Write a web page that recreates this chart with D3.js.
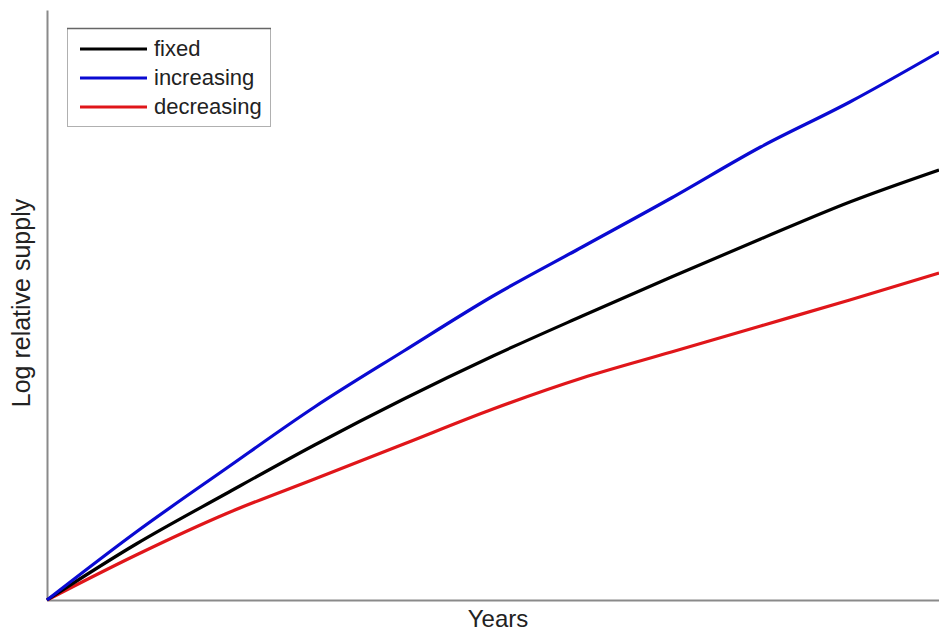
<!DOCTYPE html>
<html>
<head>
<meta charset="utf-8">
<script src="https://cdn.jsdelivr.net/npm/d3@7"></script>
<style>
html,body{margin:0;padding:0;background:#fff;}
svg{display:block;font-family:"Liberation Sans",Arial,sans-serif;}
</style>
</head>
<body>
<svg id="chart" width="939" height="634"></svg>
<script>
// Years (arbitrary, no ticks shown)
const years = [0, 10, 20, 30, 40, 50, 60, 70, 80, 90, 100];
// Log relative supply (arbitrary units, no ticks shown)
const fixedSeries      = [0, 56, 106, 155, 201, 244, 284, 323, 361, 398, 430];
const increasingSeries = [0, 68, 131, 193, 249, 304, 353, 402, 453, 498, 548];
const decreasingSeries = [0, 45, 86, 121, 156, 191, 222, 248, 274, 300, 327];
const seriesNames = ["fixed", "increasing", "decreasing"];
const seriesColors = ["#000000", "#0a0ad2", "#e0161a"];
const xLabel = "Years";
const yLabel = "Log relative supply";

(function () {
const allSeries = [fixedSeries, increasingSeries, decreasingSeries];

const svg = d3.select("#chart");
const mLeft = 47, mBottom = 600, mTop = 10, mRight = 939;

const x = d3.scaleLinear().domain([0, 100]).range([mLeft, mRight]);
const y = d3.scaleLinear().domain([0, 590]).range([mBottom, mTop]);

// axes (no ticks)
svg.append("g").attr("transform", `translate(0,${mBottom})`)
  .call(d3.axisBottom(x).tickValues([]).tickSizeOuter(0))
  .call(g => g.select(".domain").attr("stroke", "#8a8a8a").attr("stroke-width", 2));
svg.append("g").attr("transform", `translate(${mLeft},0)`)
  .call(d3.axisLeft(y).tickValues([]).tickSizeOuter(0))
  .call(g => g.select(".domain").attr("stroke", "#8a8a8a").attr("stroke-width", 2));

const line = d3.line().x((d, i) => x(years[i])).y(d => y(d)).curve(d3.curveMonotoneX);

[2, 0, 1].forEach(k => {
  svg.append("path")
    .datum(allSeries[k])
    .attr("fill", "none")
    .attr("stroke", seriesColors[k])
    .attr("stroke-width", 3.2)
    .attr("stroke-linejoin", "round")
    .attr("d", line);
});

// axis labels
svg.append("text")
  .attr("x", 498).attr("y", 627)
  .attr("text-anchor", "middle")
  .attr("font-size", 24)
  .attr("fill", "#222")
  .text(xLabel);

svg.append("text")
  .attr("transform", "translate(30,303) rotate(-90)")
  .attr("text-anchor", "middle")
  .attr("font-size", 25)
  .attr("fill", "#222")
  .text(yLabel);

// legend
const lg = svg.append("g");
lg.append("rect")
  .attr("x", 67.5).attr("y", 28.5).attr("width", 203).attr("height", 98)
  .attr("fill", "#fff").attr("stroke", "#b0b0b0").attr("stroke-width", 1);
lg.append("line")
  .attr("x1", 67).attr("x2", 271).attr("y1", 28.5).attr("y2", 28.5)
  .attr("stroke", "#666").attr("stroke-width", 1.5);
seriesNames.forEach((name, i) => {
  const yy = 49 + i * 29;
  lg.append("line")
    .attr("x1", 80).attr("x2", 147).attr("y1", yy).attr("y2", yy)
    .attr("stroke", seriesColors[i]).attr("stroke-width", 3.2);
  lg.append("text")
    .attr("x", 154).attr("y", yy + 7)
    .attr("font-size", 22)
    .attr("fill", "#222")
    .text(name);
});
})();
</script>
</body>
</html>
